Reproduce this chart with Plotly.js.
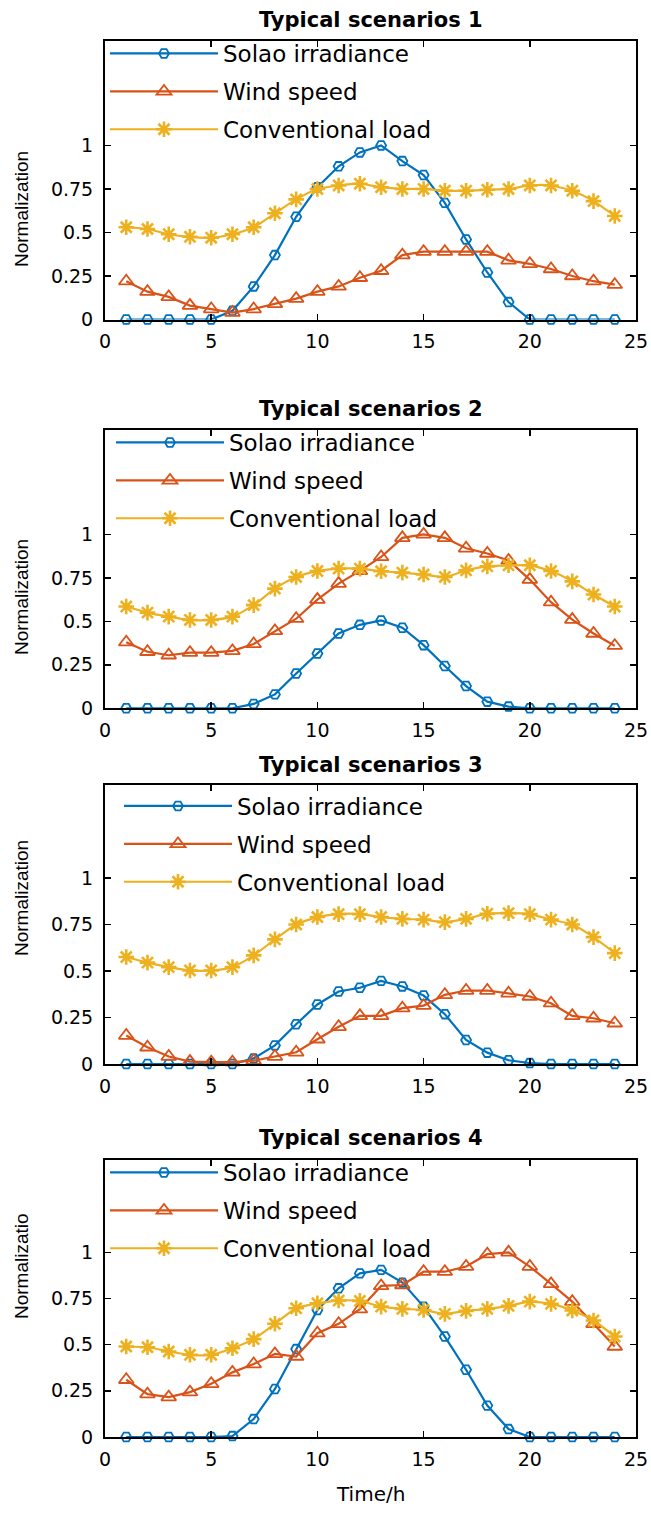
<!DOCTYPE html>
<html>
<head>
<meta charset="utf-8">
<script src="https://cdn.plot.ly/plotly-3.0.1.min.js"></script>
<style>html,body{margin:0;padding:0;background:#fff;}#chart{width:651px;height:1515px;}</style>
</head>
<body>
<div id="chart"></div>
<script>
// ---- data ----
const hours = [1,2,3,4,5,6,7,8,9,10,11,12,13,14,15,16,17,18,19,20,21,22,23,24];

const solar1 = [0,0,0,0,0,0.05,0.19,0.37,0.59,0.76,0.88,0.96,1.0,0.91,0.83,0.67,0.46,0.27,0.10,0,0,0,0,0];
const wind1  = [0.22,0.16,0.13,0.08,0.06,0.04,0.06,0.09,0.12,0.16,0.19,0.24,0.28,0.37,0.39,0.39,0.39,0.39,0.34,0.32,0.29,0.25,0.22,0.20];
const load1  = [0.53,0.52,0.49,0.475,0.47,0.49,0.53,0.61,0.69,0.75,0.77,0.78,0.76,0.75,0.75,0.74,0.74,0.745,0.75,0.77,0.77,0.74,0.68,0.595];

const solar2 = [0,0,0,0,0,0,0.025,0.08,0.2,0.315,0.43,0.48,0.505,0.463,0.363,0.243,0.128,0.038,0.01,0,0,0,0,0];
const wind2  = [0.38,0.325,0.305,0.32,0.32,0.33,0.37,0.445,0.515,0.625,0.717,0.79,0.87,0.98,1.0,0.98,0.92,0.89,0.85,0.74,0.61,0.51,0.43,0.36];
const load2  = [0.585,0.55,0.527,0.508,0.508,0.527,0.593,0.688,0.755,0.789,0.803,0.803,0.788,0.78,0.769,0.755,0.793,0.816,0.822,0.822,0.789,0.73,0.654,0.585];

const solar3 = [0,0,0,0,0,0,0.03,0.10,0.214,0.32,0.39,0.41,0.447,0.417,0.368,0.268,0.129,0.061,0.02,0.005,0,0,0,0];
const wind3  = [0.153,0.09,0.04,0.013,0.01,0.01,0.018,0.04,0.063,0.133,0.2,0.259,0.259,0.3,0.314,0.372,0.395,0.395,0.38,0.363,0.327,0.259,0.246,0.219];
const load3  = [0.575,0.545,0.521,0.503,0.503,0.521,0.584,0.67,0.75,0.79,0.806,0.806,0.79,0.78,0.776,0.763,0.78,0.808,0.811,0.806,0.776,0.75,0.682,0.596];

const solar4 = [0,0,0,0,0,0.005,0.097,0.26,0.476,0.688,0.805,0.886,0.905,0.836,0.706,0.544,0.364,0.17,0.043,0,0,0,0,0];
const wind4  = [0.31,0.232,0.216,0.243,0.288,0.35,0.395,0.45,0.436,0.562,0.613,0.692,0.818,0.823,0.895,0.895,0.923,0.99,1.0,0.923,0.829,0.733,0.613,0.49];
const load4  = [0.49,0.486,0.463,0.445,0.445,0.481,0.53,0.613,0.697,0.724,0.739,0.737,0.706,0.694,0.688,0.667,0.683,0.694,0.71,0.733,0.721,0.685,0.631,0.544];

const seriesNames = ['Solao irradiance', 'Wind speed', 'Conventional load'];
const scenarioTitles = ['Typical scenarios 1', 'Typical scenarios 2', 'Typical scenarios 3', 'Typical scenarios 4'];
const yTitles = ['Normalization', 'Normalization', 'Normalization', 'Normalizatio'];
const xTitle = 'Time/h';
const xTickVals = [0, 5, 10, 15, 20, 25];
const yTickVals = [0, 0.25, 0.5, 0.75, 1];
const yTickText = ['0', '0.25', '0.5', '0.75', '1'];

// ---- layout helpers ----
const W = 651, H = 1515;
const px = p => p / W;
const py = p => 1 - p / H;

const scenarios = [
  {solar: solar1, wind: wind1, load: load1},
  {solar: solar2, wind: wind2, load: load2},
  {solar: solar3, wind: wind3, load: load3},
  {solar: solar4, wind: wind4, load: load4}
];

const boxes = [
  {top: 41,   bottom: 319.5, ymax: 1.6, title: 20,   ytc: 209,  leg: 105, legTop: 32},
  {top: 430,  bottom: 708.3, ymax: 1.6, title: 409,  ytc: 597,  leg: 111, legTop: 421},
  {top: 785,  bottom: 1064,  ymax: 1.5, title: 765,  ytc: 898,  leg: 119, legTop: 784.5},
  {top: 1160, bottom: 1437,  ymax: 1.5, title: 1138, ytc: 1266, leg: 105, legTop: 1151}
];

const colors = ['#0072BD', '#D95319', '#EDB120'];
const markerDefs = [
  {symbol: 'hexagon2-open', size: 10, line: {width: 1.8, color: colors[0]}},
  {symbol: 'triangle-up-open', size: 13, line: {width: 1.8, color: colors[1]}},
  {symbol: 'asterisk-open', size: 13, line: {width: 2.6, color: colors[2]}}
];

const txtFont = 'DejaVu Sans, Arial, sans-serif';
const traces = [];
const layout = {
  width: W, height: H,
  margin: {l: 0, r: 0, t: 0, b: 0},
  paper_bgcolor: '#fff', plot_bgcolor: '#fff',
  font: {family: txtFont, color: '#000'},
  annotations: [],
  showlegend: true
};

scenarios.forEach((sc, i) => {
  const n = i + 1;
  const xa = 'x' + (n === 1 ? '' : n), ya = 'y' + (n === 1 ? '' : n);
  const legName = n === 1 ? 'legend' : 'legend' + n;
  const vals = [sc.solar, sc.wind, sc.load];
  vals.forEach((v, k) => {
    traces.push({
      type: 'scatter', mode: 'lines+markers',
      x: hours, y: v, name: seriesNames[k],
      xaxis: xa, yaxis: ya, legend: legName, legendgroup: 'g' + n + k,
      line: {color: colors[k], width: 2.2, shape: k === 2 ? 'spline' : 'linear', smoothing: 0.6},
      marker: Object.assign({color: colors[k]}, markerDefs[k]),
      cliponaxis: false
    });
  });
  const b = boxes[i];
  const axKeyX = 'xaxis' + (n === 1 ? '' : n), axKeyY = 'yaxis' + (n === 1 ? '' : n);
  layout[axKeyX] = {
    domain: [px(105), px(636)], anchor: ya, range: [0, 25],
    tickvals: xTickVals, ticks: 'inside', ticklen: 6, tickwidth: 1.5, tickcolor: '#000',
    showline: true, linecolor: '#000', linewidth: 2, mirror: 'ticks',
    showgrid: false, zeroline: false, ticklabelstandoff: 4,
    tickfont: {family: txtFont, size: 19, color: '#000'}
  };
  layout[axKeyY] = {
    domain: [py(b.bottom), py(b.top)], anchor: xa, range: [0, b.ymax],
    tickvals: yTickVals, ticktext: yTickText, ticks: 'inside', ticklen: 6, tickwidth: 1.5, tickcolor: '#000',
    showline: true, linecolor: '#000', linewidth: 2, mirror: 'ticks',
    showgrid: false, zeroline: false, ticklabelstandoff: 6,
    tickfont: {family: txtFont, size: 19, color: '#000'}
  };
  layout[legName] = {
    x: px(b.leg), y: py(b.legTop), xanchor: 'left', yanchor: 'top',
    xref: 'paper', yref: 'paper',
    bgcolor: 'rgba(0,0,0,0)', borderwidth: 0,
    itemwidth: 108, traceorder: 'grouped', tracegroupgap: 5,
    font: {family: txtFont, size: 23, color: '#000'}
  };
  layout.annotations.push({
    text: '<b>' + scenarioTitles[i] + '</b>', xref: 'paper', yref: 'paper',
    x: px(370.5), y: py(b.title), xanchor: 'center', yanchor: 'middle', showarrow: false,
    font: {family: txtFont, size: 21, color: '#000'}
  });
  layout.annotations.push({
    text: yTitles[i], xref: 'paper', yref: 'paper', textangle: -90,
    x: px(21), y: py(b.ytc), xanchor: 'center', yanchor: 'middle', showarrow: false,
    font: {family: 'Liberation Sans, Arial, sans-serif', size: 19, color: '#000'}
  });
});

layout.annotations.push({
  text: xTitle, xref: 'paper', yref: 'paper',
  x: px(370.5), y: py(1494), xanchor: 'center', yanchor: 'middle', showarrow: false,
  font: {family: txtFont, size: 20, color: '#000'}
});

Plotly.newPlot('chart', traces, layout, {displayModeBar: false, staticPlot: true});
</script>
</body>
</html>
